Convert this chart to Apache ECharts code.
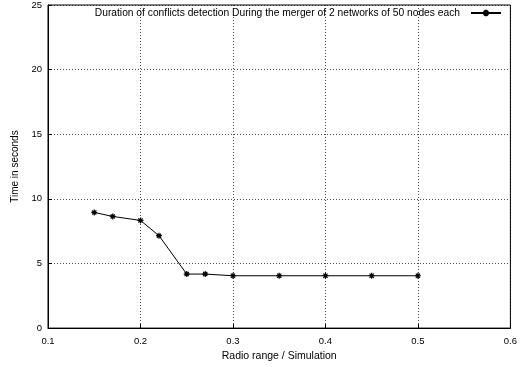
<!DOCTYPE html>
<html>
<head>
<meta charset="utf-8">
<script src="https://cdn.jsdelivr.net/npm/echarts@6/dist/echarts.min.js"></script>
<style>
  html, body { margin: 0; padding: 0; background: #fff; }
  #chart { width: 520px; height: 367px; }
</style>
</head>
<body>
<div id="chart"></div>
<script>
const seriesName = 'Duration of conflicts detection During the merger of 2 networks of 50 nodes each';
const radioRange = [0.15, 0.17, 0.2, 0.22, 0.25, 0.27, 0.3, 0.35, 0.4, 0.45, 0.5];
const timeSeconds = [8.95, 8.64, 8.33, 7.15, 4.18, 4.18, 4.05, 4.05, 4.05, 4.05, 4.05];

const chart = echarts.init(document.getElementById('chart'));
const font = 'Liberation Sans, Arial, sans-serif';
const star = 'path://M0,5L10,5M5,0L5,10M1.5,1.5L8.5,8.5M8.5,1.5L1.5,8.5';

chart.setOption({
  animation: false,
  grid: { left: 48, right: 7, top: 4, bottom: 38, show: true, borderColor: '#000', borderWidth: 1 },
  legend: {
    right: 13, top: 3, itemWidth: 30, itemHeight: 8, itemGap: 0,
    align: 'right',
    textStyle: { fontFamily: font, fontSize: 10.25, color: '#000', padding: [0, 6, 0, 0] },
    data: [seriesName]
  },
  xAxis: {
    type: 'value', min: 0.1, max: 0.6, interval: 0.1,
    name: 'Radio range / Simulation', nameLocation: 'middle', nameGap: 21,
    nameTextStyle: { fontFamily: font, fontSize: 10.5, color: '#000' },
    axisLine: { lineStyle: { color: '#000' } },
    axisTick: { inside: true, length: 4, lineStyle: { color: '#000' } },
    axisLabel: { fontFamily: font, fontSize: 9.5, color: '#000', margin: 8, formatter: v => +v.toFixed(1) + '' },
    splitLine: { show: true, lineStyle: { color: '#000', type: [1, 2], width: 0.7 } }
  },
  yAxis: {
    type: 'value', min: 0, max: 25, interval: 5,
    name: 'Time in seconds', nameLocation: 'middle', nameGap: 28,
    nameTextStyle: { fontFamily: font, fontSize: 10, color: '#000' },
    axisLine: { lineStyle: { color: '#000' } },
    axisTick: { inside: true, length: 4, lineStyle: { color: '#000' } },
    axisLabel: { fontFamily: font, fontSize: 9.5, color: '#000', margin: 6 },
    splitLine: { show: true, lineStyle: { color: '#000', type: [1, 2], width: 0.7 } }
  },
  series: [{
    name: seriesName,
    type: 'line',
    data: radioRange.map((x, i) => [x, timeSeconds[i]]),
    symbol: star, symbolSize: 6,
    lineStyle: { color: '#000', width: 1 },
    itemStyle: { color: '#000', borderColor: '#000', borderWidth: 1.2 }
  }]
});
</script>
</body>
</html>
